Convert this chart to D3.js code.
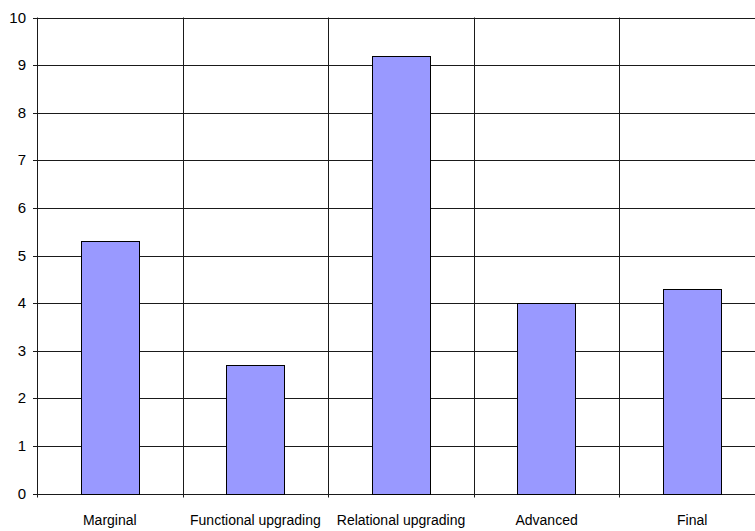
<!DOCTYPE html>
<html>
  <head>
    <meta charset="utf-8">
    <title>Upgrading</title>
    <script src="https://d3js.org/d3.v7.min.js"></script>
    <style>
      body { margin: 0; background: #fff; }
      text { font-family: "Liberation Sans", Arial, sans-serif; fill: #000; }
    </style>
  </head>
  <body>
    <svg id="chart" width="755" height="531"></svg>
    <script>
      // data
      const categories = ["Marginal", "Functional upgrading", "Relational upgrading", "Advanced", "Final"];
      const values = [5.3, 2.7, 9.2, 4.0, 4.3];
      const yTicks = [0, 1, 2, 3, 4, 5, 6, 7, 8, 9, 10];

      const svg = d3.select("#chart");
      const plotLeft = 37, plotTop = 17.5, plotBottom = 493.5, plotRight = 765;

      const x = d3.scaleBand()
        .domain(categories)
        .range([plotLeft, plotRight])
        .paddingInner(0)
        .paddingOuter(0);
      const y = d3.scaleLinear()
        .domain([0, 10])
        .range([plotBottom, plotTop]);

      // horizontal gridlines
      svg.append("g")
        .selectAll("line")
        .data(yTicks)
        .enter().append("line")
          .attr("x1", plotLeft - 4)
          .attr("x2", plotRight)
          .attr("y1", function(d) { return Math.round(y(d)) + 0.5; })
          .attr("y2", function(d) { return Math.round(y(d)) + 0.5; })
          .attr("stroke", "#1a1a1a")
          .attr("stroke-width", 1);

      // vertical gridlines at category boundaries
      svg.append("g")
        .selectAll("line")
        .data(categories)
        .enter().append("line")
          .attr("x1", function(d) { return Math.round(x(d)) + 0.5; })
          .attr("x2", function(d) { return Math.round(x(d)) + 0.5; })
          .attr("y1", plotTop)
          .attr("y2", plotBottom + 4)
          .attr("stroke", "#1a1a1a")
          .attr("stroke-width", 1);

      // bars
      const barW = x.bandwidth() * 0.4;
      svg.append("g")
        .selectAll("rect")
        .data(values)
        .enter().append("rect")
          .attr("x", function(d, i) { return Math.round(x(categories[i]) + (x.bandwidth() - barW) / 2) + 0.5; })
          .attr("y", function(d) { return Math.round(y(d)) + 0.5; })
          .attr("width", Math.round(barW))
          .attr("height", function(d) { return Math.round(y(0)) - Math.round(y(d)); })
          .attr("fill", "#9999ff")
          .attr("stroke", "#000")
          .attr("stroke-width", 1);

      // y labels
      svg.append("g")
        .selectAll("text")
        .data(yTicks)
        .enter().append("text")
          .attr("x", plotLeft - 11)
          .attr("y", function(d) { return y(d) + 5; })
          .attr("text-anchor", "end")
          .style("font-size", "15px")
          .text(function(d) { return d; });

      // x labels
      svg.append("g")
        .selectAll("text")
        .data(categories)
        .enter().append("text")
          .attr("x", function(d) { return x(d) + x.bandwidth() / 2; })
          .attr("y", 525)
          .attr("text-anchor", "middle")
          .style("font-size", "14px")
          .text(function(d) { return d; });
    </script>
  </body>
</html>
